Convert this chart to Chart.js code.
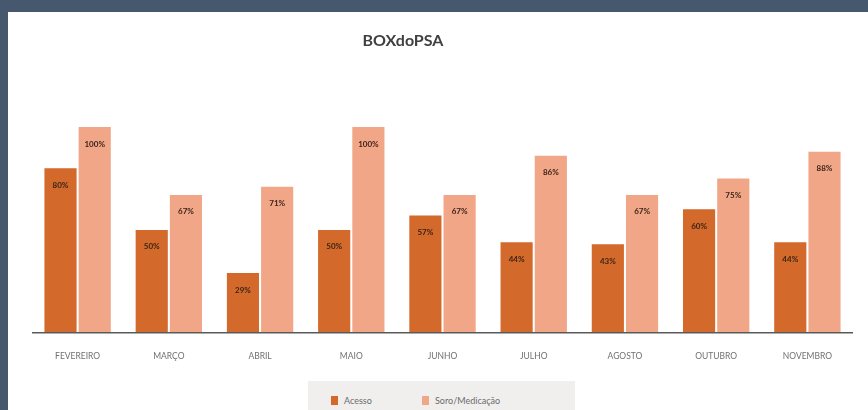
<!DOCTYPE html>
<html>
<head>
<meta charset="utf-8">
<script src="https://cdn.jsdelivr.net/npm/chart.js@4"></script>
<style>
  html, body { margin: 0; padding: 0; width: 868px; height: 410px; overflow: hidden; background: #fff; }
  .frame { position: absolute; left: 0; top: 0; width: 860px; height: 398px;
           border-top: 12px solid #46586e; border-left: 8px solid #46586e; background: #fff; }
  .box { position: absolute; left: 0; top: 0; width: 860px; height: 379px; }
  .legend { position: absolute; left: 300px; top: 369px; width: 267px; height: 40px;
            background: #f1efee; font: 9px Lato, sans-serif; color: #6b6b6b; }
  .legend span { position: absolute; top: 14px; white-space: nowrap; }
  .legend i { display: inline-block; width: 7px; height: 9px; margin-right: 6px; vertical-align: -1px; }
</style>
</head>
<body>
<div class="frame">
  <div class="box"><canvas id="chart"></canvas></div>
  <div class="legend" id="legend"></div>
</div>
<script>
const MONTHS = ["FEVEREIRO", "MARÇO", "ABRIL", "MAIO", "JUNHO", "JULHO", "AGOSTO", "OUTUBRO", "NOVEMBRO"];
const ACESSO = [80, 50, 29, 50, 57, 44, 43, 60, 44];
const SORO = [100, 67, 71, 100, 67, 86, 67, 75, 88];
const SERIES_NAMES = ["Acesso", "Soro/Medicação"];
const SERIES_COLORS = ["#d3692a", "#f1a687"];

// -------- labels inside bars, baseline + title
const barLabels = {
  id: "barLabels",
  afterDatasetsDraw(chart) {
    const ctx = chart.ctx;
    const a = chart.chartArea;
    ctx.save();
    ctx.strokeStyle = "#5a5a5a";
    ctx.lineWidth = 1.5;
    ctx.beginPath();
    ctx.moveTo(a.left, a.bottom);
    ctx.lineTo(a.right, a.bottom);
    ctx.stroke();

    ctx.font = "bold 8px Lato, sans-serif";
    ctx.fillStyle = "#3b2417";
    ctx.textAlign = "center";
    ctx.textBaseline = "middle";
    chart.data.datasets.forEach((ds, i) => {
      chart.getDatasetMeta(i).data.forEach((bar, j) => {
        ctx.fillText(ds.data[j] + "%", bar.x, bar.y + 17);
      });
    });
    ctx.restore();
  },
  afterDraw(chart) {
    const ctx = chart.ctx;
    ctx.save();
    ctx.font = "bold 16px Lato, sans-serif";
    ctx.fillStyle = "#404040";
    ctx.textAlign = "center";
    ctx.textBaseline = "middle";
    ctx.fillText("BOXdoPSA", 395, 29);
    ctx.restore();
  },
};

new Chart(document.getElementById("chart"), {
  type: "bar",
  data: {
    labels: MONTHS,
    datasets: [
      { label: SERIES_NAMES[0], data: ACESSO, backgroundColor: SERIES_COLORS[0] },
      { label: SERIES_NAMES[1], data: SORO, backgroundColor: SERIES_COLORS[1] },
    ],
  },
  options: {
    responsive: true,
    maintainAspectRatio: false,
    animation: false,
    categoryPercentage: 0.75,
    barPercentage: 0.94,
    layout: { padding: { left: 24, right: 15, top: 115, bottom: 12 } },
    plugins: { legend: { display: false }, tooltip: { enabled: false }, title: { display: false } },
    scales: {
      x: {
        grid: { display: false, drawTicks: false },
        border: { display: false },
        ticks: { color: "#707070", font: { family: "Lato", size: 8.5 }, padding: 18, maxRotation: 0 },
      },
      y: { display: false, min: 0, max: 100 },
    },
  },
  plugins: [barLabels],
});

// -------- legend
const legend = document.getElementById("legend");
const lefts = [23, 114];
SERIES_NAMES.forEach((name, i) => {
  legend.innerHTML += `<span style="left:${lefts[i]}px"><i style="background:${SERIES_COLORS[i]}"></i>${name}</span>`;
});
</script>
</body>
</html>
